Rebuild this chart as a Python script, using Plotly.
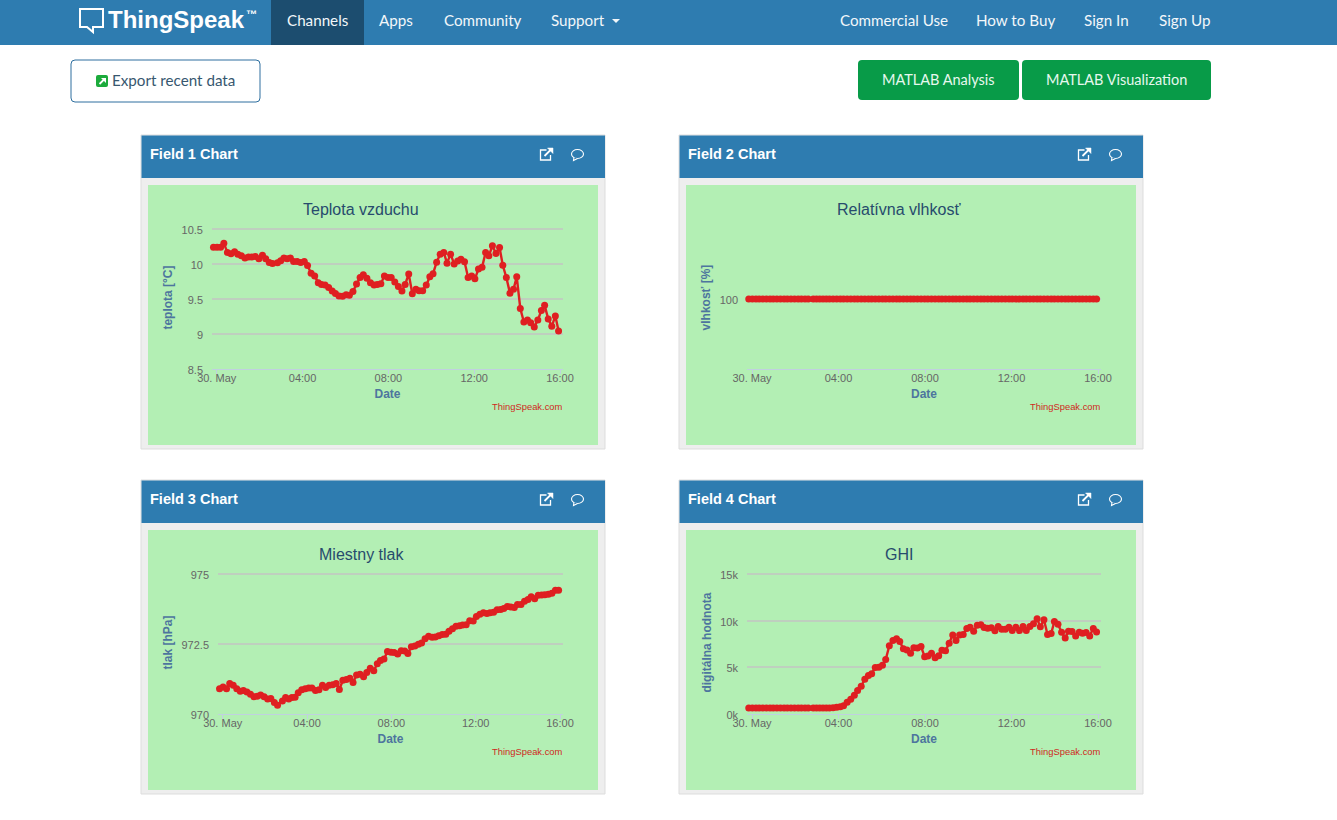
import pandas as pd
import plotly.graph_objects as go

W, H = 1337, 820

# minutes after midnight on 30 May for each sample
minutes = [
    -9, 1, 11, 20, 30, 40, 50, 59, 69, 79, 89, 98, 108, 118, 128, 137, 147, 156, 170, 179,
    188, 197, 206, 215, 225, 235, 245, 254, 264, 274, 284, 293, 303, 313, 323, 332, 342, 352, 362, 371,
    381, 391, 401, 410, 420, 430, 440, 449, 459, 469, 479, 488, 498, 508, 518, 527, 537, 547, 557, 566,
    576, 586, 596, 605, 615, 625, 635, 644, 654, 664, 674, 683, 693, 703, 713, 722, 732, 742, 752, 761,
    771, 781, 791, 800, 810, 820, 830, 839, 849, 859, 869, 878, 888, 898, 908, 917, 927, 937, 947, 956,
]

temperature = [
    10.245, 10.245, 10.245, 10.30, 10.17, 10.15, 10.18, 10.145, 10.12, 10.09,
    10.105, 10.105, 10.11, 10.08, 10.13, 10.08, 10.025, 10.01, 10.02, 10.05,
    10.09, 10.08, 10.09, 10.04, 10.04, 10.025, 10.04, 9.98, 9.87, 9.83,
    9.735, 9.71, 9.70, 9.665, 9.615, 9.58, 9.545, 9.54, 9.56, 9.555,
    9.61, 9.715, 9.81, 9.85, 9.80, 9.735, 9.70, 9.71, 9.72, 9.83,
    9.81, 9.81, 9.745, 9.68, 9.615, 9.71, 9.86, 9.575, 9.64, 9.62,
    9.62, 9.70, 9.82, 9.865, 10.03, 10.145, 10.17, 10.015, 10.145, 10.005,
    10.045, 10.07, 10.035, 9.81, 9.83, 9.79, 9.93, 9.955, 10.17, 10.12,
    10.265, 10.155, 10.24, 9.985, 9.81, 9.585, 9.64, 9.82, 9.365, 9.17,
    9.20, 9.16, 9.10, 9.20, 9.335, 9.41, 9.215, 9.11, 9.255, 9.04,
]

humidity = [
    100, 100, 100, 100, 100, 100, 100, 100, 100, 100, 100, 100, 100, 100, 100, 100, 100, 100, 100, 100,
    100, 100, 100, 100, 100, 100, 100, 100, 100, 100, 100, 100, 100, 100, 100, 100, 100, 100, 100, 100,
    100, 100, 100, 100, 100, 100, 100, 100, 100, 100, 100, 100, 100, 100, 100, 100, 100, 100, 100, 100,
    100, 100, 100, 100, 100, 100, 100, 100, 100, 100, 100, 100, 100, 100, 100, 100, 100, 100, 100, 100,
    100, 100, 100, 100, 100, 100, 100, 100, 100, 100, 100, 100, 100, 100, 100, 100, 100, 100, 100, 100,
]

pressure = [
    970.90, 970.96, 970.90, 971.08, 971.02, 970.90, 970.81, 970.83, 970.78, 970.70,
    970.61, 970.63, 970.67, 970.61, 970.53, 970.55, 970.40, 970.30, 970.46, 970.58,
    970.53, 970.58, 970.59, 970.75, 970.86, 970.90, 970.92, 970.92, 970.83, 970.86,
    971.02, 970.94, 971.02, 971.04, 971.08, 970.87, 971.20, 971.23, 971.27, 971.12,
    971.39, 971.42, 971.33, 971.48, 971.63, 971.54, 971.79, 971.91, 971.96, 972.23,
    972.21, 972.20, 972.14, 972.26, 972.25, 972.16, 972.40, 972.43, 972.49, 972.54,
    972.69, 972.78, 972.74, 972.75, 972.80, 972.84, 972.85, 972.96, 973.05, 973.14,
    973.16, 973.18, 973.19, 973.34, 973.33, 973.49, 973.57, 973.62, 973.60, 973.62,
    973.64, 973.73, 973.74, 973.78, 973.85, 973.83, 973.81, 973.92, 973.92, 974.04,
    974.10, 974.20, 974.13, 974.25, 974.26, 974.27, 974.29, 974.32, 974.43, 974.43,
]

ghi = [
    620, 620, 620, 620, 620, 620, 620, 620, 620, 620, 620, 620,
    620, 620, 620, 620, 620, 620, 620, 620, 620, 620, 620, 620,
    650, 685, 757, 865, 1225, 1550, 1980, 2490, 2960, 3710,
    4110, 4290, 4975, 5010, 5230, 5840, 7320, 7895, 8075,
    7765, 7000, 6865, 6500, 7115, 7080, 7225, 6140, 6215, 6500,
    6035, 6250, 6830, 6790, 7585, 8485, 7870, 8485, 8520, 9170,
    9315, 8880, 9530, 9570, 9280, 9200, 9245, 8920, 9385, 9100,
    9100, 9315, 8955, 9315, 8955, 9385, 8955, 9385, 9675, 10215,
    9350, 10110, 8520, 8630, 9930, 9640, 8775, 8160, 8880, 8845,
    8380, 8775, 8665, 8740, 8380, 9170, 8810,
]

x_tick_labels = ["30. May", "04:00", "08:00", "12:00", "16:00"]
x_tick_times = ["2018-05-30 00:00", "2018-05-30 04:00", "2018-05-30 08:00", "2018-05-30 12:00", "2018-05-30 16:00"]

BLUE = "#2e7cb0"
GREEN = "#b3efb4"
RED = "#df1f21"
BASE = pd.Timestamp("2018-05-30")
times = [BASE + pd.Timedelta(minutes=m) for m in minutes]

charts = [
    dict(field="Field 1 Chart", title="Teplota vzduchu", ytitle="teplota [°C]", y=temperature,
         yr=[8.5, 10.5], yt=[8.5, 9, 9.5, 10, 10.5], yl=["8.5", "9", "9.5", "10", "10.5"],
         px=141, py=135, left=212, right=563, t0=216.7, t16=560),
    dict(field="Field 2 Chart", title="Relatívna vlhkosť", ytitle="vlhkosť [%]", y=humidity,
         yr=[99, 101], yt=[100], yl=["100"],
         px=679, py=135, left=747, right=1101, t0=752, t16=1098),
    dict(field="Field 3 Chart", title="Miestny tlak", ytitle="tlak [hPa]", y=pressure,
         yr=[970, 975], yt=[970, 972.5, 975], yl=["970", "972.5", "975"],
         px=141, py=480, left=218, right=563, t0=222.7, t16=560),
    dict(field="Field 4 Chart", title="GHI", ytitle="digitálna hodnota", y=ghi,
         yr=[0, 15000], yt=[0, 5000, 10000, 15000], yl=["0k", "5k", "10k", "15k"],
         px=679, py=480, left=747, right=1101, t0=752, t16=1098),
]


def fx(x):
    return x / W


def fy(y):
    return 1 - y / H


def rect(x0, y0, x1, y1, fill, line=None, width=1):
    return dict(type="rect", xref="paper", yref="paper", x0=fx(x0), x1=fx(x1), y0=fy(y0), y1=fy(y1),
                fillcolor=fill, line=dict(color=line or fill, width=width if line else 0), layer="below")


def rounded(x0, y0, x1, y1, r, fill, line=None):
    pts = (f"M {fx(x0 + r)} {fy(y0)} L {fx(x1 - r)} {fy(y0)} Q {fx(x1)} {fy(y0)} {fx(x1)} {fy(y0 + r)} "
           f"L {fx(x1)} {fy(y1 - r)} Q {fx(x1)} {fy(y1)} {fx(x1 - r)} {fy(y1)} "
           f"L {fx(x0 + r)} {fy(y1)} Q {fx(x0)} {fy(y1)} {fx(x0)} {fy(y1 - r)} "
           f"L {fx(x0)} {fy(y0 + r)} Q {fx(x0)} {fy(y0)} {fx(x0 + r)} {fy(y0)} Z")
    return dict(type="path", xref="paper", yref="paper", path=pts, fillcolor=fill,
                line=dict(color=line or fill, width=1 if line else 0), layer="below")


def poly(points, fill="rgba(0,0,0,0)", line=None, width=1.3, closed=True, layer="above"):
    p = "M " + " L ".join(f"{fx(a)} {fy(b)}" for a, b in points) + (" Z" if closed else "")
    return dict(type="path", xref="paper", yref="paper", path=p, fillcolor=fill,
                line=dict(color=line or "rgba(0,0,0,0)", width=width if line else 0), layer=layer)


def label(x, y, text, size, color, family="Liberation Sans", anchor="left", bold=False):
    return dict(xref="paper", yref="paper", x=fx(x), y=fy(y), text=f"<b>{text}</b>" if bold else text,
                showarrow=False, xanchor=anchor, yanchor="middle", align=anchor,
                font=dict(size=size, color=color, family=family))


def link_icon(x, y, color="white"):
    # little square with an arrow leaving it, as on the chart headers
    return [
        poly([(x + 6, y - 4), (x, y - 4), (x, y + 6), (x + 10, y + 6), (x + 10, y + 1)], line=color, closed=False),
        poly([(x + 4, y + 2), (x + 11, y - 5)], line=color, closed=False, width=1.8),
        poly([(x + 7, y - 6), (x + 12.5, y - 6), (x + 12.5, y - 0.5)], fill=color, line=color, width=0.5),
    ]


def bubble_icon(x, y, color="white"):
    return [
        dict(type="circle", xref="paper", yref="paper", x0=fx(x), x1=fx(x + 12), y0=fy(y - 4.5), y1=fy(y + 4.5),
             line=dict(color=color, width=1.1), fillcolor="rgba(0,0,0,0)"),
        poly([(x + 2.5, y + 3), (x + 2, y + 6.5), (x + 6, y + 4.5)], fill=BLUE, line=color, closed=False, width=1.1),
    ]


fig = go.Figure()
shapes = []
annotations = []

# page furniture
shapes.append(rect(0, 0, W, 45, BLUE))
shapes.append(rect(271, 0, 364, 45, "#1c4d6f"))
nav_font = "Lato"
for txt, cx in [("Channels", 317.5), ("Apps", 396), ("Community", 482.5), ("Commercial Use", 893.5),
                ("How to Buy", 1016), ("Sign In", 1106), ("Sign Up", 1185)]:
    annotations.append(label(cx, 20, txt, 15.2, "#f2f7fa", nav_font, "center"))
annotations.append(label(548.5, 20, "Support", 15.2, "#f2f7fa", nav_font))
shapes.append(poly([(612, 19), (620, 19), (616, 23)], fill="#f2f7fa"))
annotations.append(label(105.5, 19, "ThingSpeak", 24, "white", "Liberation Sans", bold=True))
annotations.append(label(244, 14, "™", 11, "white", "Liberation Sans", bold=True))
shapes.append(poly([(80, 9), (103, 9), (103, 27), (93, 27), (93, 32), (87, 27), (80, 27)], line="white", width=2))

shapes.append(rounded(71, 60, 260, 102, 4, "white", "#2e6f9f"))
shapes.append(rounded(96, 75, 108, 87, 2, "#1cab3c"))
shapes.append(poly([(99.5, 84), (104, 79.5)], line="white", closed=False, width=1.8))
shapes.append(poly([(101, 78), (106, 78), (106, 83)], fill="white"))
annotations.append(label(110, 80, "Export recent data", 15.2, "#37576f", nav_font))
shapes.append(rounded(858, 60, 1019, 100, 4, "#089b48"))
shapes.append(rounded(1022, 60, 1211, 100, 4, "#089b48"))
annotations.append(label(938.5, 80, "MATLAB Analysis", 14.5, "#e6f8ee", nav_font, "center"))
annotations.append(label(1116.5, 80, "MATLAB Visualization", 14.5, "#e6f8ee", nav_font, "center"))

for i, c in enumerate(charts):
    suffix = "" if i == 0 else str(i + 1)
    px0, py0 = c["px"], c["py"]
    top, bottom = py0 + 94.4, py0 + 233.7
    shapes.append(rect(px0, py0, px0 + 464, py0 + 314, "#eeeeee", "#dddddd"))
    shapes.append(rect(px0 + 0.5, py0 + 0.5, px0 + 464, py0 + 43, BLUE))
    shapes.append(rect(px0 + 7, py0 + 50, px0 + 457, py0 + 310, GREEN))
    annotations.append(label(px0 + 7, py0 + 19, c["field"], 14.5, "white", bold=True))
    shapes.extend(link_icon(px0 + 399.5, py0 + 19))
    shapes.extend(bubble_icon(px0 + 430.5, py0 + 19))
    annotations.append(label(px0 + 220, py0 + 74, c["title"], 16, "#274b6d", anchor="center"))
    annotations.append(label(px0 + 424, py0 + 271, "ThingSpeak.com", 9.4, "#cf2a1c", anchor="right"))

    scale = (c["t16"] - c["t0"]) / 960
    r0 = BASE + pd.Timedelta(minutes=(c["left"] - c["t0"]) / scale)
    r1 = BASE + pd.Timedelta(minutes=(c["right"] - c["t0"]) / scale)

    # plotly drops a gridline sitting exactly on the plot edge, so leave 3px above the top one
    y_pad = (c["yr"][1] - c["yr"][0]) / (bottom - top) * 3

    fig.add_trace(go.Scatter(
        x=times, y=c["y"], mode="lines+markers", name=c["title"], showlegend=False,
        xaxis="x" + suffix, yaxis="y" + suffix,
        line=dict(color=RED, width=2.4),
        marker=dict(color=RED, size=7),
        cliponaxis=False,
    ))
    fig.layout["xaxis" + suffix] = dict(
        domain=[fx(c["left"]), fx(c["right"])], range=[r0, r1], anchor="y" + suffix,
        automargin=False,
        tickmode="array", tickvals=x_tick_times, ticktext=x_tick_labels,
        tickfont=dict(size=11, color="#666666", family="Liberation Sans"),
        showgrid=False, zeroline=False, showline=True, linecolor="#c0d0e0", linewidth=1,
        ticks="outside", ticklen=4, tickcolor="#c0d0e0", tickangle=0, ticklabelstandoff=-5,
        title=dict(text="<b>Date</b>", standoff=6,
                   font=dict(size=12, color="#4d759e", family="Liberation Sans")),
    )
    fig.layout["yaxis" + suffix] = dict(
        domain=[fy(bottom), fy(top - 3)], range=[c["yr"][0], c["yr"][1] + y_pad], anchor="x" + suffix,
        automargin=False,
        tickmode="array", tickvals=c["yt"], ticktext=c["yl"],
        tickfont=dict(size=11, color="#666666", family="Liberation Sans"),
        showgrid=True, gridcolor="#bfcfbf", gridwidth=1.5, zeroline=False, showline=False, ticks="",
        ticklabelstandoff=8, ticklabelshift=1,
        title=dict(text=f"<b>{c['ytitle']}</b>", standoff=6,
                   font=dict(size=12, color="#4d759e", family="Liberation Sans")),
    )

fig.update_layout(
    width=W, height=H, autosize=False,
    margin=dict(l=0, r=0, t=0, b=0),
    paper_bgcolor="white", plot_bgcolor="rgba(0,0,0,0)",
    showlegend=False, shapes=shapes, annotations=annotations,
)

fig.write_html("out.html", post_script="document.body.style.margin='0';", config=dict(displayModeBar=False))
